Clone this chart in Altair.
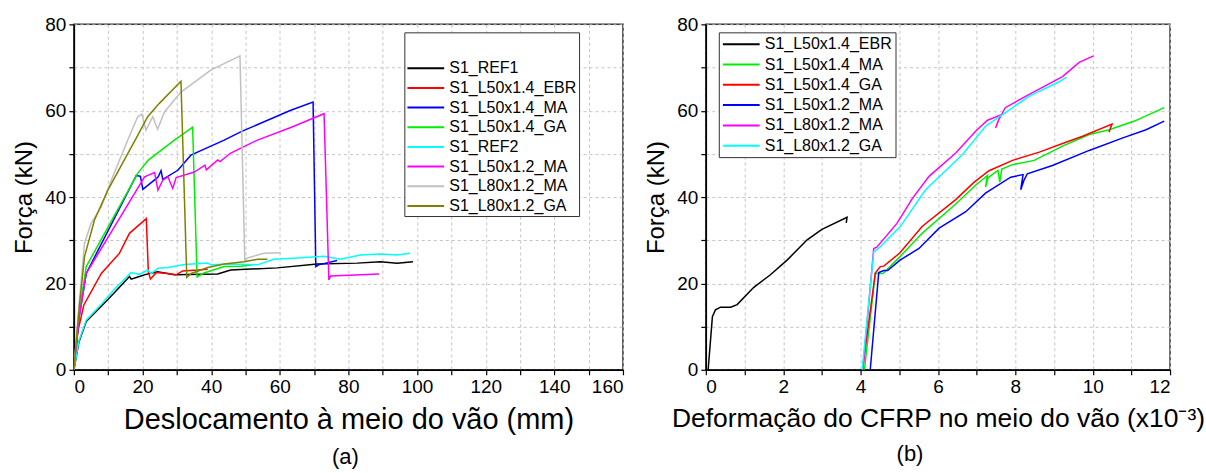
import altair as alt
import pandas as pd

FONT = "Liberation Sans"

# ---------------- Panel (a): load vs mid-span displacement ----------------
a_names = ["S1_REF1", "S1_L50x1.4_EBR", "S1_L50x1.4_MA", "S1_L50x1.4_GA",
           "S1_REF2", "S1_L50x1.2_MA", "S1_L80x1.2_MA", "S1_L80x1.2_GA"]
a_colors = ["#000000", "#ff0000", "#0000ff", "#00ee00",
            "#00ffff", "#ff00ff", "#c0c0c0", "#808000"]

ref1_x = [0, 1.5, 3.6, 8, 12, 16.2, 16.7, 19.1, 21, 21.5, 24.4, 29.3, 41.9, 45.7, 59.3, 70.9, 82.6, 89.3, 94.2, 98.8]
ref1_y = [0, 6.5, 11.2, 14.7, 18, 21.6, 21, 21.6, 22.1, 22.2, 22.7, 22, 22.2, 23.1, 23.6, 24.5, 24.7, 25.0, 24.7, 25.0]

ebr_x = [0, 1.2, 2.9, 8, 13.3, 16.2, 21.1, 21.7, 22.3, 24, 27.4, 29.8, 31.7, 36.1, 39]
ebr_y = [0, 9, 15, 22.3, 27, 31.6, 35, 22.7, 21, 22.5, 22.3, 22, 22.9, 23.1, 23.3]

ma14_x = [0, 1.5, 3.6, 18.2, 19.4, 20.1, 24.5, 25.4, 25.9, 30.3, 34.1, 43.8, 48.6, 63.2, 69.7, 70.5, 71.3, 76.7]
ma14_y = [0, 12, 22.3, 45, 44.8, 41.8, 44.6, 46.1, 44.1, 46.2, 49.7, 53.2, 55.1, 60.1, 62.0, 23.9, 24.3, 25.3]

ga14_x = [0, 1.5, 3.6, 18.6, 21.6, 29.3, 34.6, 35.9, 37.9, 43.8, 48.6, 52]
ga14_y = [0, 13, 23.9, 45.5, 48.5, 53.2, 56.2, 21.5, 22.4, 23.9, 24.0, 24.3]

ref2_x = [0, 1.5, 3.6, 8, 12, 16.7, 19.1, 21.5, 22.5, 24.5, 27.4, 32.2, 39, 39.9, 45, 53.5, 58.3, 65, 72.9, 77.6, 83.5, 89.3, 94.2, 98.0]
ref2_y = [0, 6.8, 11.5, 15.2, 18.8, 22.5, 22.1, 23.1, 22.3, 23.5, 23.7, 24.4, 24.7, 24.3, 24.5, 24.3, 25.6, 25.9, 26.3, 25.6, 26.6, 26.8, 26.6, 27.0]

ma12_x = [0, 1.5, 3.6, 20.6, 23.5, 24.5, 25.9, 27.4, 28.8, 29.8, 35.1, 38.2, 38.6, 41.9, 42.6, 45.7, 53.5, 63.2, 72.9, 74.3, 74.8, 88.9]
ma12_y = [0, 12, 22.3, 44.7, 45.7, 41.6, 43.9, 44.7, 42, 44.5, 45.8, 47.4, 46.3, 48.6, 48.2, 50.2, 53.2, 56.1, 59.3, 20.8, 21.7, 22.2]

ma80_x = [0, 1.5, 3.1, 5, 8, 10.9, 15.7, 18.6, 19.8, 21, 23, 24.4, 26.4, 31.2, 39.9, 48.4, 49.8, 50.6, 55.4, 60.3]
ma80_y = [0, 15, 29.3, 33.9, 37.7, 43.9, 53.2, 58.6, 59.2, 55.5, 58.6, 55.7, 59.7, 64.3, 69.4, 72.7, 25.4, 25.9, 27, 27.1]

ga80_x = [0, 1.5, 3.1, 6, 9.9, 18.6, 21.5, 24.9, 31.2, 32.9, 34.2, 39, 43.8, 49.6, 53.5, 56.4]
ga80_y = [0, 14, 26.2, 34.7, 41.6, 54.3, 58.6, 61.7, 66.8, 21.4, 22.3, 23.7, 24.5, 25, 25.6, 25.6]

a_series = [(ref1_x, ref1_y), (ebr_x, ebr_y), (ma14_x, ma14_y), (ga14_x, ga14_y),
            (ref2_x, ref2_y), (ma12_x, ma12_y), (ma80_x, ma80_y), (ga80_x, ga80_y)]

# ---------------- Panel (b): load vs CFRP strain ----------------
b_names = ["S1_L50x1.4_EBR", "S1_L50x1.4_MA", "S1_L50x1.4_GA",
           "S1_L50x1.2_MA", "S1_L80x1.2_MA", "S1_L80x1.2_GA"]
b_colors = ["#000000", "#00ee00", "#ff0000", "#0000ff", "#ff00ff", "#00ffff"]

b_ebr_x = [0.06, 0.17, 0.25, 0.38, 0.64, 0.81, 1.24, 1.67, 2.1, 2.62, 3.0, 3.65, 3.63]
b_ebr_y = [0, 12.3, 13.9, 14.5, 14.5, 15.1, 19.1, 22, 25.4, 30.1, 32.5, 35.3, 34]

b_ma14_x = [4.1, 4.38, 4.58, 5.02, 5.59, 6.46, 6.98, 7.28, 7.23, 7.30, 7.55, 7.60, 7.65, 7.93, 8.49, 9.22, 9.91, 10.43, 11.08, 11.85]
b_ma14_y = [0, 22.3, 22.3, 26.2, 31.6, 38.4, 42.8, 45.0, 42.3, 44.5, 46.2, 43.5, 46.5, 47.5, 48.5, 51.8, 54.5, 55.6, 57.6, 60.7]

b_ga14_x = [4.05, 4.38, 4.51, 4.6, 5.02, 5.59, 6.46, 6.93, 7.32, 7.93, 8.62, 9.31, 9.74, 10.50, 10.42]
b_ga14_y = [0, 22.4, 23.9, 24, 27.1, 33.2, 39.4, 43.4, 46.1, 48.5, 50.4, 52.7, 54.1, 56.9, 55.0]

b_ma12_x = [4.25, 4.47, 4.6, 4.7, 5.02, 5.51, 6.03, 6.72, 7.23, 7.88, 8.2, 8.14, 8.22, 8.31, 8.96, 9.91, 10.78, 11.38, 11.85]
b_ma12_y = [0, 22.5, 23, 23, 25.4, 28.1, 32.8, 36.6, 40.9, 44.6, 45.2, 41.7, 43.8, 45.4, 47.3, 50.8, 53.7, 55.6, 57.6]

b_ma80_x = [4.06, 4.34, 4.42, 4.94, 5.34, 5.77, 6.46, 6.98, 7.28, 7.62, 7.49, 7.55, 7.74, 8.36, 9.22, 9.65, 10.02]
b_ma80_y = [0, 28.1, 28.4, 33.9, 39.7, 44.8, 50.2, 55.3, 57.8, 59.0, 56.0, 57.5, 60.7, 63.8, 67.9, 71.2, 72.7]

b_ga80_x = [4.04, 4.34, 4.51, 5.02, 5.68, 6.63, 7.23, 7.67, 8.36, 9.13, 9.32]
b_ga80_y = [0, 27.3, 28.5, 33.1, 41.7, 49.8, 56.4, 59.1, 63.4, 66.7, 67.8]

b_series = [(b_ebr_x, b_ebr_y), (b_ma14_x, b_ma14_y), (b_ga14_x, b_ga14_y),
            (b_ma12_x, b_ma12_y), (b_ma80_x, b_ma80_y), (b_ga80_x, b_ga80_y)]


def frame(names, series):
    rows = []
    for name, (xs, ys) in zip(names, series):
        for i, (xv, yv) in enumerate(zip(xs, ys)):
            rows.append({"series": name, "x": xv, "y": yv, "i": i})
    return pd.DataFrame(rows)


df_a = frame(a_names, a_series)
df_b = frame(b_names, b_series)

axis_common = dict(
    labelFont=FONT, titleFont=FONT, labelFontSize=19, labelColor="black",
    titleColor="black", titleFontWeight="normal",
    domainColor="black", domainWidth=1.5, tickColor="black", tickSize=5,
    tickWidth=1.2, labelPadding=3,
    gridColor="#c4c4c4", gridDash=[3, 3], gridWidth=1,
)

y_axis = alt.Axis(title="Força (kN)", titleFontSize=24, titlePadding=8,
                  values=list(range(0, 81, 10)),
                  labelExpr="datum.value % 20 == 0 ? datum.label : ''",
                  **axis_common)

legend_common = dict(symbolType="M-2.3,0H2.3", symbolSize=256, symbolStrokeWidth=2,
                     symbolOffset=10.5,
                     labelFont=FONT, labelFontSize=16, labelColor="black",
                     labelOffset=14.5,
                     strokeColor="#333333", fillColor="white")

left = alt.Chart(df_a).mark_line(strokeWidth=1.5, clip=True).encode(
    x=alt.X("x:Q", scale=alt.Scale(domain=[0, 160], nice=False),
            axis=alt.Axis(title="Deslocamento à meio do vão (mm)", titleFontSize=29,
                          titlePadding=9, values=list(range(0, 161, 10)),
                          labelExpr="datum.value % 20 == 0 ? datum.label : ''",
                          **axis_common)),
    y=alt.Y("y:Q", scale=alt.Scale(domain=[0, 80], nice=False), axis=y_axis),
    color=alt.Color("series:N", sort=a_names,
                    scale=alt.Scale(domain=a_names, range=a_colors),
                    legend=alt.Legend(orient="none", legendX=331, legendY=8,
                                      title="\u00a0" * 70, titleFontSize=10,
                                      titlePadding=15, titleFont=FONT,
                                      padding=2, rowPadding=2.7, **legend_common)),
    order=alt.Order("i:Q"),
).properties(width=550, height=346,
             title=alt.TitleParams("(a)", orient="bottom", fontSize=22,
                                   fontWeight="normal", font=FONT, frame="group",
                                   dx=-3, offset=12, color="black"))

right = alt.Chart(df_b).mark_line(strokeWidth=1.5, clip=True).encode(
    x=alt.X("x:Q", scale=alt.Scale(domain=[0, 12], nice=False),
            axis=alt.Axis(title="Deformação do CFRP no meio do vão (x10⁻³)",
                          titleFontSize=26.5, titlePadding=9,
                          values=list(range(0, 13, 1)),
                          labelExpr="datum.value % 2 == 0 ? datum.label : ''",
                          **axis_common)),
    y=alt.Y("y:Q", scale=alt.Scale(domain=[0, 80], nice=False), axis=y_axis),
    color=alt.Color("series:N", sort=b_names,
                    scale=alt.Scale(domain=b_names, range=b_colors),
                    legend=alt.Legend(orient="none", legendX=13, legendY=8,
                                      title=None, padding=3, rowPadding=3.3,
                                      **legend_common)),
    order=alt.Order("i:Q"),
).properties(width=465, height=346,
             title=alt.TitleParams("(b)", orient="bottom", fontSize=22,
                                   fontWeight="normal", font=FONT, frame="group",
                                   dx=-28, offset=12, color="black"))

chart = alt.hconcat(left, right, spacing=83, bounds="flush").resolve_scale(
    color="independent").resolve_legend(color="independent").configure_view(
    stroke="#333333", strokeWidth=1.5).properties(
    padding={"left": 12, "top": 14, "right": 0, "bottom": 0},
    background="white")

chart.save("out.html", embed_options={"renderer": "svg", "actions": False})
